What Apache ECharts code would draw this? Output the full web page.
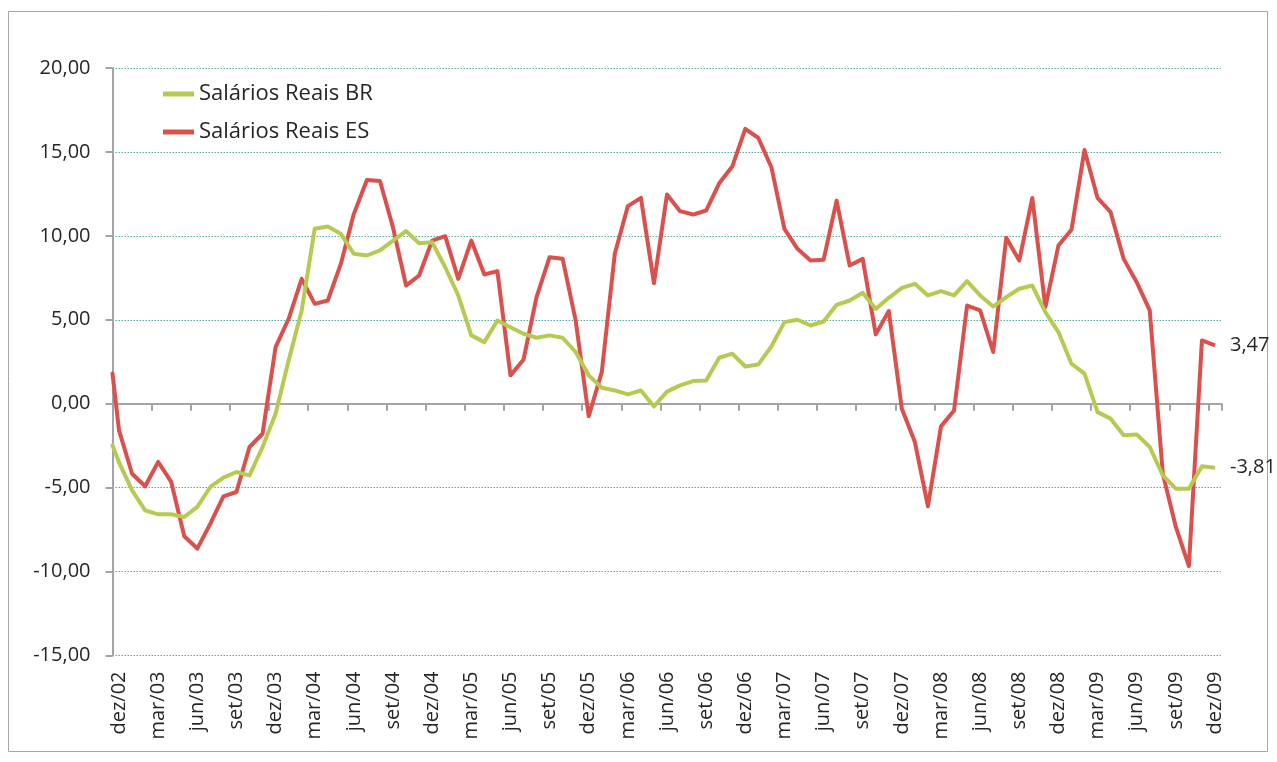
<!DOCTYPE html>
<html>
<head>
<meta charset="utf-8">
<title>Salários Reais BR x ES</title>
<script src="https://cdn.jsdelivr.net/npm/echarts@6/dist/echarts.min.js"></script>
<style>
  html, body { margin: 0; padding: 0; background: #fff; }
  #chart { width: 1277px; height: 762px; }
</style>
</head>
<body>
<div id="chart"></div>
<script>
// meses de dez/02 a dez/09
const monthNames = ['jan', 'fev', 'mar', 'abr', 'mai', 'jun', 'jul', 'ago', 'set', 'out', 'nov', 'dez'];
const categories = ['dez/02'];
for (let y = 3; y <= 9; y++) {
  monthNames.forEach(m => categories.push(m + '/0' + y));
}

// variação dos salários reais (%)
const salariosBR = [
  -3.49, -5.16, -6.35, -6.59, -6.59, -6.75, -6.15, -4.96, -4.40, -4.07,
  -4.27, -2.58, -0.60, 2.58, 5.56, 10.42, 10.56, 10.12, 8.93, 8.83,
  9.13, 9.72, 10.28, 9.56, 9.62, 8.13, 6.45, 4.07, 3.67, 4.96,
  4.56, 4.17, 3.93, 4.07, 3.93, 3.08, 1.69, 0.95, 0.79, 0.56,
  0.79, -0.16, 0.72, 1.09, 1.35, 1.39, 2.74, 2.98, 2.22, 2.34,
  3.41, 4.86, 5.00, 4.66, 4.90, 5.89, 6.15, 6.61, 5.65, 6.31,
  6.90, 7.14, 6.45, 6.71, 6.45, 7.30, 6.45, 5.79, 6.35, 6.85,
  7.04, 5.46, 4.27, 2.38, 1.79, -0.50, -0.89, -1.88, -1.83, -2.58,
  -4.27, -5.06, -5.06, -3.73, -3.81
];
const salariosES = [
  -1.59, -4.17, -4.92, -3.47, -4.66, -7.90, -8.63, -7.14, -5.52, -5.26,
  -2.58, -1.79, 3.37, 5.06, 7.44, 5.95, 6.15, 8.33, 11.31, 13.33,
  13.27, 10.50, 7.04, 7.64, 9.72, 9.98, 7.44, 9.72, 7.70, 7.90,
  1.69, 2.62, 6.35, 8.73, 8.63, 4.96, -0.75, 1.88, 8.93, 11.77,
  12.26, 7.18, 12.46, 11.47, 11.27, 11.51, 13.13, 14.13, 16.37, 15.83,
  14.09, 10.42, 9.23, 8.53, 8.57, 12.10, 8.23, 8.63, 4.13, 5.52,
  -0.30, -2.28, -6.11, -1.35, -0.40, 5.85, 5.56, 3.08, 9.88, 8.53,
  12.26, 5.75, 9.42, 10.36, 15.12, 12.26, 11.41, 8.63, 7.24, 5.56,
  -4.17, -7.34, -9.68, 3.77, 3.47
];
// trecho inicial que parte do eixo vertical (posição 0 -> centro de dez/02)
const inicioBR = [[0, -2.48], [0.5, -3.49]];
const inicioES = [[0, 1.80], [0.5, -1.59]];

const seriesNames = ['Salários Reais BR', 'Salários Reais ES'];
const colors = ['#b6ca52', '#d9504c'];

const FONT = 'Open Sans';
const fmt = v => Number(v).toFixed(2).replace('.', ',');

const chart = echarts.init(document.getElementById('chart'), null, { renderer: 'canvas' });

const mainSeries = seriesNames.map((name, k) => ({
  name: name,
  type: 'line',
  xAxisIndex: 0,
  data: k === 0 ? salariosBR : salariosES,
  symbol: 'none',
  color: colors[k],
  lineStyle: { width: 4, color: colors[k], join: 'round' },
  z: k === 0 ? 3 : 2,
  endLabel: {
    show: true,
    distance: 15,
    fontFamily: FONT,
    fontSize: 20,
    color: '#262626',
    formatter: p => fmt(p.value)
  }
}));

const stubSeries = [inicioBR, inicioES].map((d, k) => ({
  name: seriesNames[k],
  type: 'line',
  xAxisIndex: 2,
  data: d,
  symbol: 'none',
  color: colors[k],
  lineStyle: { width: 4, color: colors[k], cap: 'round' },
  z: k === 0 ? 3 : 2,
  silent: true
}));

chart.setOption({
  animation: false,
  backgroundColor: '#fff',
  textStyle: { fontFamily: FONT },
  graphic: [{
    type: 'rect',
    shape: { x: 8.5, y: 11.5, width: 1259, height: 740 },
    style: { fill: 'none', stroke: '#a6a6a6', lineWidth: 1 },
    silent: true
  }],
  grid: { left: 112.5, right: 55.5, top: 68, bottom: 106.5 },
  legend: {
    orient: 'vertical',
    left: 158,
    top: 78,
    itemWidth: 31,
    itemHeight: 5,
    itemGap: 16,
    icon: 'rect',
    textStyle: { fontFamily: FONT, fontSize: 22, color: '#262626' },
    data: seriesNames
  },
  xAxis: [
    {
      // eixo dos rótulos, na base
      type: 'category',
      data: categories,
      boundaryGap: true,
      position: 'bottom',
      axisLine: { show: false, onZero: false },
      axisTick: { show: false },
      splitLine: { show: false },
      axisLabel: {
        interval: 2,
        rotate: 90,
        margin: 16,
        fontFamily: FONT,
        fontSize: 20,
        color: '#262626'
      }
    },
    {
      // linha do zero com as marcas
      type: 'category',
      data: categories,
      boundaryGap: true,
      position: 'bottom',
      axisLine: { show: true, onZero: true, lineStyle: { color: '#a3a3a8', width: 2 } },
      axisTick: { show: true, interval: 2, length: 7, lineStyle: { color: '#a3a3a8', width: 2 } },
      axisLabel: { show: false },
      splitLine: { show: false }
    },
    {
      // escala auxiliar para o trecho inicial
      type: 'value',
      min: 0,
      max: 85,
      show: false,
      position: 'bottom',
      axisLine: { onZero: false },
      splitLine: { show: false }
    }
  ],
  yAxis: {
    type: 'value',
    min: -15,
    max: 20,
    interval: 5,
    axisLine: { show: true, onZero: false, lineStyle: { color: '#a3a3a8', width: 2 } },
    axisTick: { show: true, length: 7, lineStyle: { color: '#a3a3a8', width: 2 } },
    splitLine: { show: true, lineStyle: { color: '#52ad9f', width: 1, type: [1.5, 1.5] } },
    axisLabel: {
      margin: 22,
      fontFamily: FONT,
      fontSize: 20,
      color: '#262626',
      formatter: fmt
    }
  },
  series: mainSeries.concat(stubSeries)
});
</script>
</body>
</html>
